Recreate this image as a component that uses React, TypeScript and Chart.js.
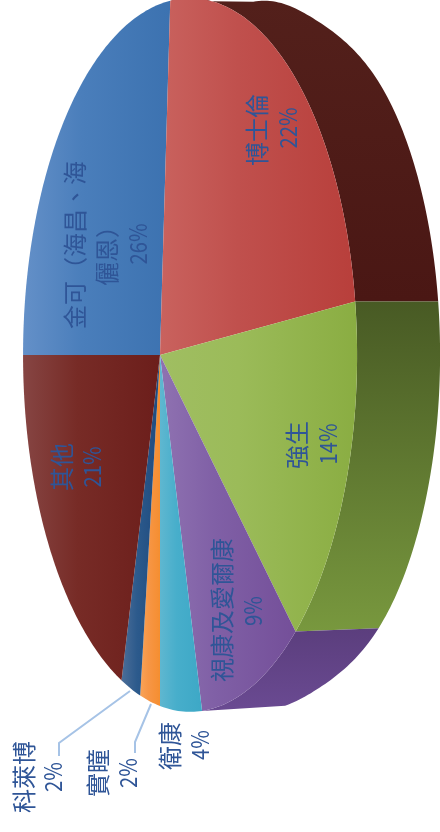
import React, { useEffect, useRef } from "react";
import { Chart, registerables } from "chart.js";

Chart.register(...registerables);

// ---- data -------------------------------------------------------------
const categories = ["金可（海昌、海儷恩）", "博士倫", "強生", "視康及愛爾康", "衛康", "實瞳", "科萊博", "其他"];
const shares = [26, 22, 14, 9, 4, 2, 2, 21];
const percentLabels = ["26%", "22%", "14%", "9%", "4%", "2%", "2%", "21%"];
const nameLines = [["金可（海昌、海", "儷恩）"], ["博士倫"], ["強生"], ["視康及愛爾康"], ["衛康"], ["實瞳"], ["科萊博"], ["其他"]];

// ---- style ------------------------------------------------------------
const baseColors = ["#4A7EBB", "#C0504D", "#9BBB59", "#7F5FA6", "#45AEC9", "#F79646", "#2C4D75", "#772C2A"];
const faceStops = [
  ["#6490C8", "#4A7EBB", "#3C72B0"],
  ["#C9625E", "#C0504D", "#B83F3B"],
  ["#A0BE62", "#9BBB59", "#8AAD42"],
  ["#8F72B1", "#8060A6", "#744F99"],
  ["#5FB7D0", "#47AECB", "#3DA8C6"],
  ["#F9A358", "#F79646", "#F58E30"],
  ["#4C6E98", "#2C5A8C", "#1E4A7E"],
  ["#864543", "#772B26", "#6C1E1B"],
];
const wallStops: Record<number, [string, string]> = {
  1: ["#53201B", "#4A1714"],
  2: ["#485A24", "#78983E"],
  3: ["#5B3E7D", "#6A4A92"],
};
const TEXT = "#2F5597";
const LEADER = "#A6C3E6";

// projection of the flat pie on the rotated, perspective view
const CX = 160, CY = 355, A = 161.6, B = 351, Q = 0.18, DX = 83;
const face = (t: number): [number, number] => {
  const u = Math.cos(t), v = Math.sin(t), w = 1 - Q * u;
  return [CX + (A * u) / w, CY + (B * v) / w];
};
const rim = (t: number): [number, number] => {
  const [x, y] = face(t);
  const deg = Math.abs((t * 180) / Math.PI);
  const width = deg < 62 ? 20 : 16;
  const pull = 1 - 0.03 * Math.exp(-Math.pow((deg - 62) / width, 2));
  return [x + DX, CY + (y - CY) * pull];
};
const samples = (s: number, e: number) => {
  const n = Math.max(4, Math.ceil(Math.abs(e - s) * 60));
  return Array.from({ length: n + 1 }, (_, i) => s + ((e - s) * i) / n);
};

// [line centre x, y] for the name lines then the percentage
const labelPos: [number, number][][] = [
  [[75, 245], [107, 250], [138, 244]],
  [[257, 130], [288, 128]],
  [[297, 445], [328, 444]],
  [[222, 610], [253, 611]],
  [[170, 746], [200, 745]],
  [[98, 773], [128, 773]],
  [[24, 777], [53, 777]],
  [[62, 467], [92, 467]],
];
const leaders: [number, number][][] = [
  [[130, 691], [59, 743], [59, 756]],
  [[151, 704], [135, 742], [135, 753]],
];

const piePlugin = {
  id: "projectedPie",
  beforeDatasetDraw: () => false,
  afterDatasetsDraw(chart: any) {
    const ctx: CanvasRenderingContext2D = chart.ctx;
    const arcs = chart.getDatasetMeta(0).data;
    ctx.save();
    // side wall
    [1, 2, 3].forEach((i) => {
      const { startAngle: s, endAngle: e } = arcs[i];
      const pts = [...samples(s, e).map(face), ...samples(e, s).map(rim)];
      const ys = pts.map((p) => p[1]);
      const g = ctx.createLinearGradient(0, Math.min(...ys), 0, Math.max(...ys));
      g.addColorStop(0, wallStops[i][0]);
      g.addColorStop(1, wallStops[i][1]);
      ctx.fillStyle = g;
      ctx.beginPath();
      pts.forEach((p, k) => (k ? ctx.lineTo(p[0], p[1]) : ctx.moveTo(p[0], p[1])));
      ctx.closePath();
      ctx.fill();
    });
    // top face
    arcs.forEach((arc: any, i: number) => {
      const pts = samples(arc.startAngle, arc.endAngle).map(face);
      const xs = [CX, ...pts.map((p) => p[0])];
      const g = ctx.createLinearGradient(Math.min(...xs), 0, Math.max(...xs), 0);
      g.addColorStop(0, faceStops[i][0]);
      g.addColorStop(0.4, faceStops[i][1]);
      g.addColorStop(1, faceStops[i][2]);
      ctx.fillStyle = g;
      ctx.beginPath();
      ctx.moveTo(CX, CY);
      pts.forEach((p) => ctx.lineTo(p[0], p[1]));
      ctx.closePath();
      ctx.fill();
    });
    // leaders
    ctx.strokeStyle = LEADER;
    ctx.lineWidth = 2;
    leaders.forEach((l) => {
      ctx.beginPath();
      l.forEach((p, k) => (k ? ctx.lineTo(p[0], p[1]) : ctx.moveTo(p[0], p[1])));
      ctx.stroke();
    });
    // labels
    ctx.fillStyle = TEXT;
    ctx.textAlign = "center";
    ctx.textBaseline = "middle";
    nameLines.forEach((lines, i) => {
      [...lines, percentLabels[i]].forEach((txt, k) => {
        const [x, y] = labelPos[i][k];
        const isPercent = k === lines.length;
        ctx.font = `${isPercent ? 22 : 24}px "Noto Sans CJK TC", "Noto Sans", sans-serif`;
        ctx.save();
        ctx.translate(x, y);
        ctx.rotate(-Math.PI / 2);
        if (isPercent) ctx.scale(0.92, 1.08);
        ctx.fillText(txt, 0, 0);
        ctx.restore();
      });
    });
    ctx.restore();
  },
};

export default function App() {
  const ref = useRef<HTMLCanvasElement>(null);
  useEffect(() => {
    const chart = new Chart(ref.current as HTMLCanvasElement, {
      type: "pie",
      data: {
        labels: categories,
        datasets: [{ data: shares, backgroundColor: baseColors, borderWidth: 0 }],
      },
      options: {
        animation: false,
        responsive: false,
        rotation: -90,
        plugins: { legend: { display: false }, tooltip: { enabled: false } },
      },
      plugins: [piePlugin],
    } as any);
    return () => chart.destroy();
  }, []);
  return (
    <canvas
      ref={ref}
      width={440}
      height={832}
      style={{ position: "absolute", left: 0, top: 0, width: 440, height: 832, filter: "blur(0.4px)" }}
    />
  );
}
